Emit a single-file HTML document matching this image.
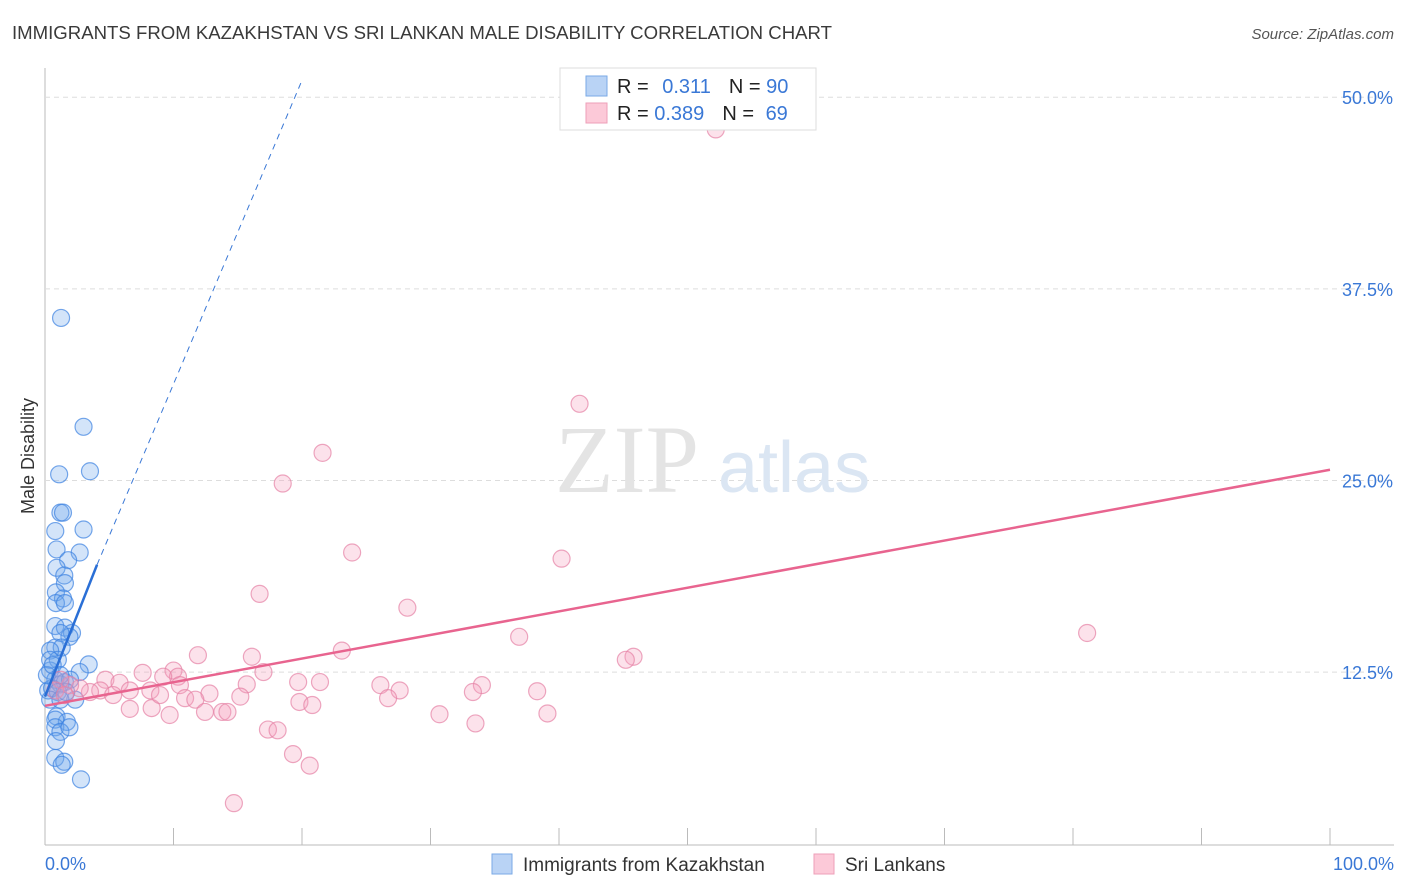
<!DOCTYPE html>
<html><head><meta charset="utf-8"><style>
body{margin:0;background:#fff;font-family:"Liberation Sans",sans-serif;}
svg{display:block}
</style></head><body>
<svg id="chart" width="1406" height="892">
<text x="12" y="39" font-size="18.6" fill="#3a3a3a">IMMIGRANTS FROM KAZAKHSTAN VS SRI LANKAN MALE DISABILITY CORRELATION CHART</text>
<text x="1394" y="39" font-size="15" fill="#555" font-style="italic" text-anchor="end">Source: ZipAtlas.com</text>
<text x="34" y="456" font-size="18" fill="#333" text-anchor="middle" transform="rotate(-90 34 456)">Male Disability</text>
<g id="grid"></g>
<text x="555" y="492" font-size="96" font-family="Liberation Serif,serif" fill="#e4e4e4">ZIP</text>
<text x="718" y="492" font-size="72" fill="#dbe6f3">atlas</text>
<g id="marks"></g>
<g>
<rect x="560" y="68" width="256" height="62" fill="#fff" stroke="#ddd"/>
<rect x="586" y="76" width="21" height="20" fill="#b9d3f5" stroke="#7aaae6"/>
<rect x="586" y="103" width="21" height="20" fill="#fcc9d8" stroke="#ee9fb8"/>
<text x="617" y="93" font-size="20" fill="#222">R = <tspan fill="#3a78d6" dx="8">0.311</tspan><tspan fill="#222" dx="18">N = </tspan><tspan fill="#3a78d6">90</tspan></text>
<text x="617" y="120" font-size="20" fill="#222">R = <tspan fill="#3a78d6">0.389</tspan><tspan fill="#222" dx="18">N = </tspan><tspan fill="#3a78d6" dx="6">69</tspan></text>
</g>
<g>
<rect x="492" y="854" width="20" height="20" fill="#b9d3f5" stroke="#7aaae6"/>
<text x="523" y="871" font-size="19" fill="#333">Immigrants from Kazakhstan</text>
<rect x="814" y="854" width="20" height="20" fill="#fcc9d8" stroke="#ee9fb8"/>
<text x="845" y="871" font-size="19" fill="#333">Sri Lankans</text>
</g>
</svg>
<script>
const yTicks=[12.5,25,37.5,50];
const yTickLabels=["12.5%","25.0%","37.5%","50.0%"];
const xTickLabels=["0.0%","100.0%"];
const blueX=[1.25,3.0,3.5,1.1,1.2,1.4,3.0,0.8,0.9,2.7,1.8,0.9,1.5,1.55,0.85,1.4,0.85,1.55,0.8,1.55,2.1,1.9,1.2,0.8,1.3,0.4,1.0,3.4,2.7,0.4,0.8,1.2,1.55,1.95,0.25,0.55,1.0,2.35,0.4,1.2,0.9,1.7,0.8,0.8,1.2,1.9,0.85,0.8,1.5,1.3,2.8,0.4,0.15,0.6,1.2,1.65];
const blueY=[35.6,28.5,25.6,25.4,22.9,22.9,21.8,21.7,20.5,20.3,19.8,19.3,18.8,18.3,17.7,17.3,17.0,17.0,15.5,15.4,15.05,14.8,15.05,14.1,14.1,13.9,13.3,13.0,12.5,12.6,12.0,11.7,11.85,12.0,11.3,11.45,11.2,10.7,10.7,10.7,9.6,9.25,9.4,8.9,8.6,8.9,8.0,6.9,6.65,6.45,5.5,13.3,12.3,12.95,12.3,11.2];
const pinkX=[52.2,41.6,21.6,18.5,23.9,40.2,16.7,28.2,81.1,36.9,23.1,45.8,45.2,11.9,16.1,17.0,7.6,10.0,10.35,9.2,19.7,21.4,26.1,34.0,27.6,33.3,38.3,15.7,4.7,5.8,6.6,8.2,10.5,10.9,12.8,15.2,11.7,19.8,20.8,26.7,6.6,8.3,12.45,13.8,14.2,9.7,30.7,39.1,33.5,17.35,18.1,19.3,20.6,14.7,4.3,3.5,2.7,1.95,1.2,0.8,1.55,5.3,8.95];
const pinkY=[47.9,30.0,26.8,24.8,20.3,19.9,17.6,16.7,15.05,14.8,13.9,13.5,13.3,13.6,13.5,12.5,12.45,12.6,12.2,12.2,11.85,11.85,11.65,11.65,11.3,11.2,11.25,11.7,12.0,11.8,11.3,11.3,11.65,10.8,11.1,10.9,10.7,10.55,10.35,10.8,10.1,10.15,9.9,9.9,9.9,9.7,9.75,9.8,9.15,8.75,8.7,7.15,6.4,3.95,11.3,11.2,11.45,11.65,12.0,11.3,11.0,11.0,11.0];
const blueTrend=[[0,10.9],[4.05,19.5],[20,51.1]];
const pinkTrend=[[0,10.3],[100,25.7]];
const X0=45,X1=1330,Y0=863.7,YS=15.33;
const sx=v=>X0+(X1-X0)*v/100, sy=v=>Y0-YS*v;
const NS="http://www.w3.org/2000/svg";
const svg=document.getElementById('chart'),grid=document.getElementById('grid'),marks=document.getElementById('marks');
function mk(tag,attrs,parent){const e=document.createElementNS(NS,tag);for(const k in attrs)e.setAttribute(k,attrs[k]);parent.appendChild(e);return e;}
let l=mk('line',{x1:45,y1:68,x2:45,y2:845,stroke:'#bbb'},grid);


l=mk('line',{x1:45,y1:845,x2:1394,y2:845,stroke:'#bbb'},grid);


for(let i=0;i<=10;i++){const x=X0+(X1-X0)*i/10;const t=mk('line',{x1:x,y1:828,x2:x,y2:845,stroke:'#bbb'},grid);

}
yTicks.forEach((v,i)=>{const g=mk('line',{x1:45,y1:sy(v),x2:1394,y2:sy(v),stroke:'#ddd','stroke-dasharray':'5,4'},grid);


const t=mk('text',{x:1393,y:sy(v)+7,'font-size':18,fill:'#3a78d6','text-anchor':'end'},grid);t.textContent=yTickLabels[i];

});
[[45,'start'],[1394,'end']].forEach((p,i)=>{const t=mk('text',{x:p[0],y:870,'font-size':18,fill:'#3a78d6','text-anchor':p[1]},grid);t.textContent=xTickLabels[i];

});
blueX.forEach((v,i)=>{const c=mk('circle',{cx:sx(v),cy:sy(blueY[i]),r:8.5,fill:'rgba(110,165,235,0.3)',stroke:'rgba(60,130,225,0.7)','stroke-width':1.2},marks);

});
pinkX.forEach((v,i)=>{const c=mk('circle',{cx:sx(v),cy:sy(pinkY[i]),r:8.5,fill:'rgba(245,160,190,0.3)',stroke:'rgba(230,130,165,0.7)','stroke-width':1.2},marks);

});
l=mk('line',{x1:sx(blueTrend[1][0]),y1:sy(blueTrend[1][1]),x2:sx(blueTrend[2][0]),y2:sy(blueTrend[2][1]),stroke:'#3a78d6','stroke-width':1,'stroke-dasharray':'6,5'},marks);


l=mk('line',{x1:sx(blueTrend[0][0]),y1:sy(blueTrend[0][1]),x2:sx(blueTrend[1][0]),y2:sy(blueTrend[1][1]),stroke:'#2a6fd6','stroke-width':2.5},marks);


l=mk('line',{x1:sx(pinkTrend[0][0]),y1:sy(pinkTrend[0][1]),x2:sx(pinkTrend[1][0]),y2:sy(pinkTrend[1][1]),stroke:'#e8648f','stroke-width':2.5},marks);


</script>
</body></html>
